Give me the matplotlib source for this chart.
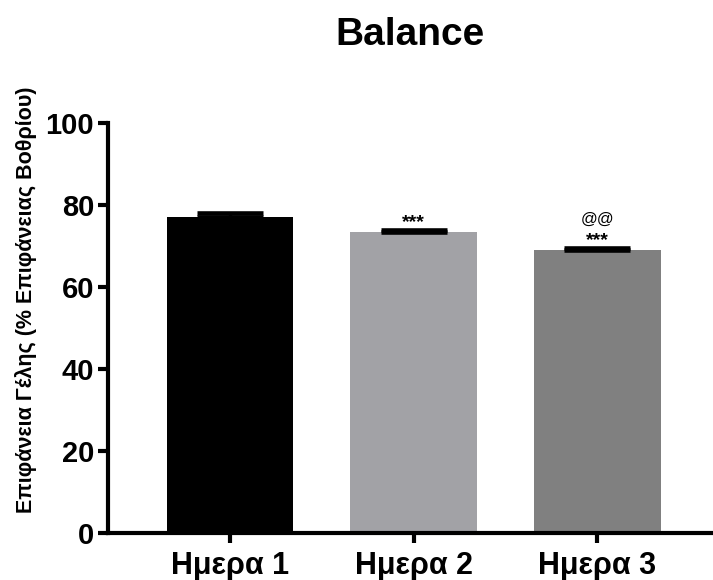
import matplotlib
matplotlib.use("Agg")
import matplotlib.pyplot as plt

plt.rcParams['font.family'] = ['Liberation Sans', 'DejaVu Sans']

categories = ["Ημερα 1", "Ημερα 2", "Ημερα 3"]
values = [77.1, 73.4, 69.0]
errors = [0.9, 0.5, 0.6]
colors = ["#000000", "#a2a2a6", "#808080"]
annotations = ["", "***", "***"]
annotations2 = ["", "", "@@"]
yticks = [0, 20, 40, 60, 80, 100]

fig = plt.figure(figsize=(7.13, 5.8), dpi=100)
ax = fig.add_axes([108/713, 1-533/580, 1-108/713, (533-123)/580])

x = list(range(len(categories)))
ax.bar(x, values, width=0.69, color=colors, zorder=2)
ax.errorbar(x, values, yerr=[[0]*3, errors], fmt='none', ecolor='black',
            elinewidth=2.5, capsize=24, capthick=3.3, zorder=3)

for xi, v, e, a in zip(x, values, errors, annotations):
    if a:
        ax.annotate(a, xy=(xi, v + e), xytext=(0, 2), textcoords='offset points',
                    ha='center', va='baseline', fontsize=14, fontweight='bold')
for xi, v, e, a in zip(x, values, errors, annotations2):
    if a:
        ax.annotate(a, xy=(xi, v + e), xytext=(0, 17), textcoords='offset points',
                    ha='center', va='baseline', fontsize=12)

ax.set_xlim(-0.665, 2.63)
ax.set_ylim(0, 100)
ax.set_yticks(yticks)
ax.set_xticks(x)
ax.set_xticklabels(categories, fontsize=22, fontweight='bold')
ax.set_yticklabels([str(t) for t in yticks], fontsize=21, fontweight='bold')
for s in ['top', 'right']:
    ax.spines[s].set_visible(False)
for s in ['left', 'bottom']:
    ax.spines[s].set_linewidth(3)
ax.tick_params(axis='both', width=3, length=7, pad=3)
ax.tick_params(axis='x', pad=6)

ax.set_ylabel("Επιφάνεια Γέλης (% Επιφάνειας Βοθρίου)", fontsize=15.5,
              fontweight='bold')
ax.yaxis.set_label_coords(-0.117, 0.568)
ax.set_title("Balance", fontsize=28, fontweight='bold', pad=56)

fig.savefig("out.png", dpi=100)
